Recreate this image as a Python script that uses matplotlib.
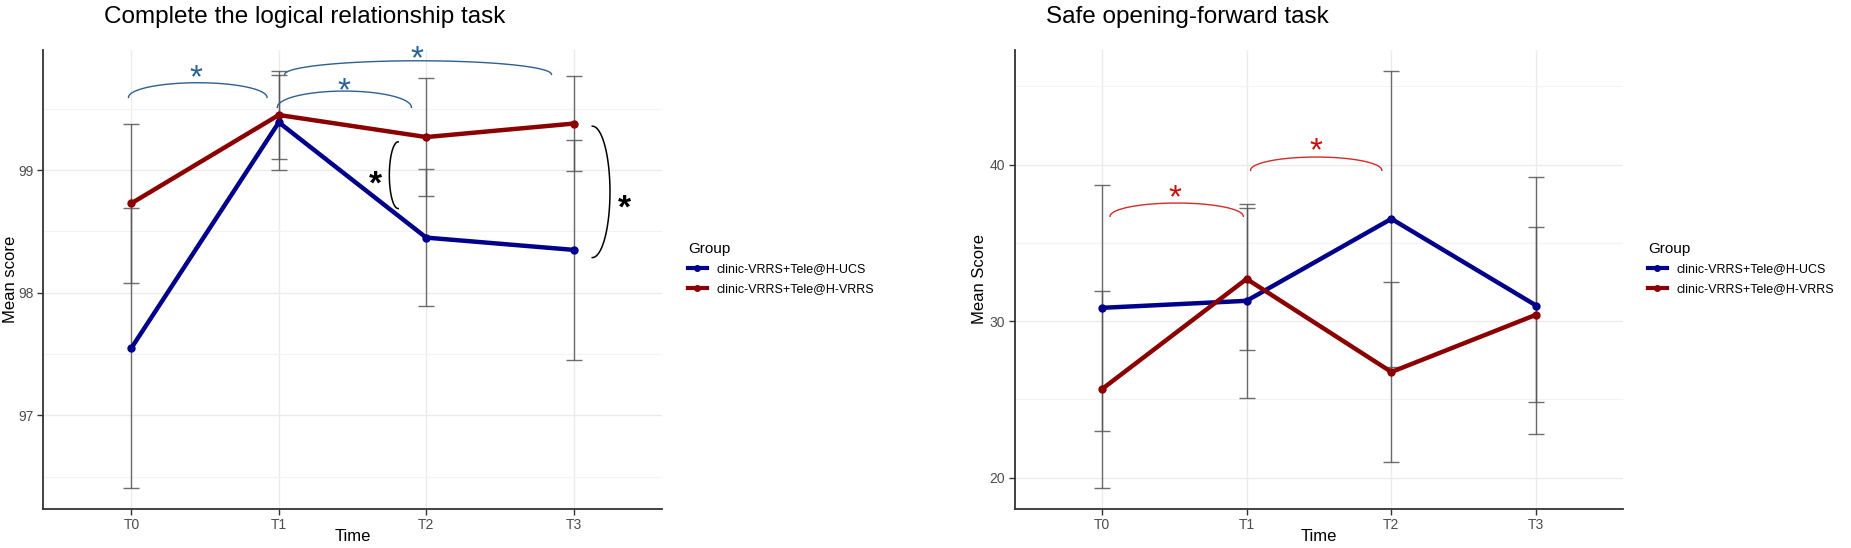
import numpy as np
import matplotlib
matplotlib.use("Agg")
import matplotlib.pyplot as plt
from matplotlib.lines import Line2D

plt.rcParams['font.family'] = ['Liberation Sans', 'DejaVu Sans']

times = ['T0', 'T1', 'T2', 'T3']
groups = ['clinic-VRRS+Tele@H-UCS', 'clinic-VRRS+Tele@H-VRRS']
group_colors = ['#00008B', '#8B0000']

# Complete the logical relationship task (mean, half error bar)
logic_ucs = [97.55, 99.39, 98.45, 98.35]
logic_ucs_err = [1.14, 0.39, 0.56, 0.90]
logic_vrrs = [98.73, 99.45, 99.27, 99.38]
logic_vrrs_err = [0.65, 0.36, 0.48, 0.39]

# Safe opening-forward task
safe_ucs = [30.85, 31.30, 36.54, 31.00]
safe_ucs_err = [7.86, 6.19, 9.46, 8.24]
safe_vrrs = [25.65, 32.70, 26.75, 30.41]
safe_vrrs_err = [6.30, 4.53, 5.75, 5.58]

# significance marks: (x start, x end, y ends, y top, star x, star y)
logic_hbrackets = [(-0.02, 0.92, 99.593, 99.713, 0.44, 99.83),
                   (0.99, 1.90, 99.512, 99.645, 1.44, 99.727),
                   (1.04, 2.85, 99.781, 99.892, 1.94, 99.985)]
# vertical ones: (x ends, x bulge, y low, y high, star x, star y)
logic_vbrackets = [(1.81, 1.75, 98.687, 99.231, 1.653, 98.96),
                   (3.127, 3.247, 98.287, 99.359, 3.342, 98.77)]
safe_hbrackets = [(0.057, 0.977, 36.70, 37.55, 0.506, 38.47),
                  (1.027, 1.934, 39.64, 40.49, 1.476, 41.49)]

W, H = 1851, 548
fig = plt.figure(figsize=(W / 100, H / 100), dpi=100)


def px_box(x0, y0, x1, y1):
    return [x0 / W, 1 - y1 / H, (x1 - x0) / W, (y1 - y0) / H]


def style_axes(ax, yticks, yminor, means, errs):
    x = np.arange(len(times))
    lo = min(min(np.array(m) - np.array(e)) for m, e in zip(means, errs))
    hi = max(max(np.array(m) + np.array(e)) for m, e in zip(means, errs))
    pad = (hi - lo) * 0.05
    for m, e, c in zip(means, errs, group_colors):
        ax.errorbar(x, m, yerr=e, fmt='none', ecolor='#555555', elinewidth=1,
                    capsize=6, capthick=1, alpha=0.85, zorder=2)
    for m, c in zip(means, group_colors):
        ax.plot(x, m, color=c, lw=3.2, marker='o', ms=5,
                solid_capstyle='round', solid_joinstyle='round', zorder=3)
    ax.set_xlim(-0.6, len(times) - 0.4)
    ax.set_ylim(lo - pad, hi + pad)
    ax.set_xticks(x)
    ax.set_xticklabels(times)
    ax.set_yticks(yticks)
    ax.set_yticks(yminor, minor=True)
    ax.tick_params(which='minor', length=0)
    ax.tick_params(which='major', length=4, width=1, color='#333333',
                   labelcolor='#4D4D4D', labelsize=10, pad=3)
    ax.grid(True, which='major', color='#EBEBEB', lw=1)
    ax.grid(True, which='minor', axis='y', color='#F3F3F3', lw=0.8)
    ax.set_axisbelow(True)
    for s in ['top', 'right']:
        ax.spines[s].set_visible(False)
    for s in ['left', 'bottom']:
        ax.spines[s].set_color('#333333')
        ax.spines[s].set_linewidth(1.3)
    ax.set_xlabel('Time', fontsize=12)
    ax.xaxis.set_label_coords(0.5, -0.045)


def star(ax, x, y, color, weight):
    # the asterisk glyph sits high, so pull it down onto the point
    ax.annotate('*', (x, y), xytext=(0, -7.5), textcoords='offset points',
                ha='center', va='center', fontsize=24, color=color,
                fontweight=weight, annotation_clip=False)


def hbrace(ax, spec, color, star_color):
    x0, x1, yb, yt, sx, sy = spec
    t = np.linspace(0, np.pi, 80)
    xm, a = (x0 + x1) / 2, (x1 - x0) / 2
    ax.plot(xm - a * np.cos(t), yb + (yt - yb) * np.sin(t), color=color,
            lw=1, clip_on=False, zorder=4)
    star(ax, sx, sy, star_color, 'normal')


def vbrace(ax, spec, color):
    xe, xb, y0, y1, sx, sy = spec
    t = np.linspace(0, np.pi, 80)
    ym, a = (y0 + y1) / 2, (y1 - y0) / 2
    ax.plot(xe + (xb - xe) * np.sin(t), ym - a * np.cos(t), color=color,
            lw=1.1, clip_on=False, zorder=4)
    star(ax, sx, sy, 'black', 'bold')


ax1 = fig.add_axes(px_box(43, 50, 662, 508.6))
style_axes(ax1, [97, 98, 99], [96.5, 97.5, 98.5, 99.5],
           [logic_ucs, logic_vrrs], [logic_ucs_err, logic_vrrs_err])
ax1.set_ylabel('Mean score', fontsize=12)
ax1.yaxis.set_label_coords(-0.04, 0.5)
for b in logic_hbrackets:
    hbrace(ax1, b, '#2F5F8F', '#2B6196')
for b in logic_vbrackets:
    vbrace(ax1, b, 'black')

ax2 = fig.add_axes(px_box(1015, 50, 1623, 508.6))
style_axes(ax2, [20, 30, 40], [25, 35, 45],
           [safe_ucs, safe_vrrs], [safe_ucs_err, safe_vrrs_err])
ax2.set_ylabel('Mean Score', fontsize=12)
ax2.yaxis.set_label_coords(-0.046, 0.5)
for b in safe_hbrackets:
    hbrace(ax2, b, '#D42A2A', '#C80F0F')

fig.text(104 / W, 1 - 23 / H, 'Complete the logical relationship task',
         fontsize=17.5, ha='left', va='baseline')
fig.text(1046 / W, 1 - 23 / H, 'Safe opening-forward task',
         fontsize=17.5, ha='left', va='baseline')

handles = [Line2D([], [], color=c, lw=3, marker='o', ms=4) for c in group_colors]
for ax, lx in [(ax1, 688), (ax2, 1648)]:
    ax.legend(handles, groups, title='Group', loc='upper left',
              bbox_to_anchor=(lx / W, 1 - 242 / H), bbox_transform=fig.transFigure,
              frameon=False, alignment='left', fontsize=9, title_fontsize=11,
              handlelength=1.5, handletextpad=0.8, labelspacing=0.6,
              borderpad=0, borderaxespad=0)

fig.savefig('out.png', dpi=100)
